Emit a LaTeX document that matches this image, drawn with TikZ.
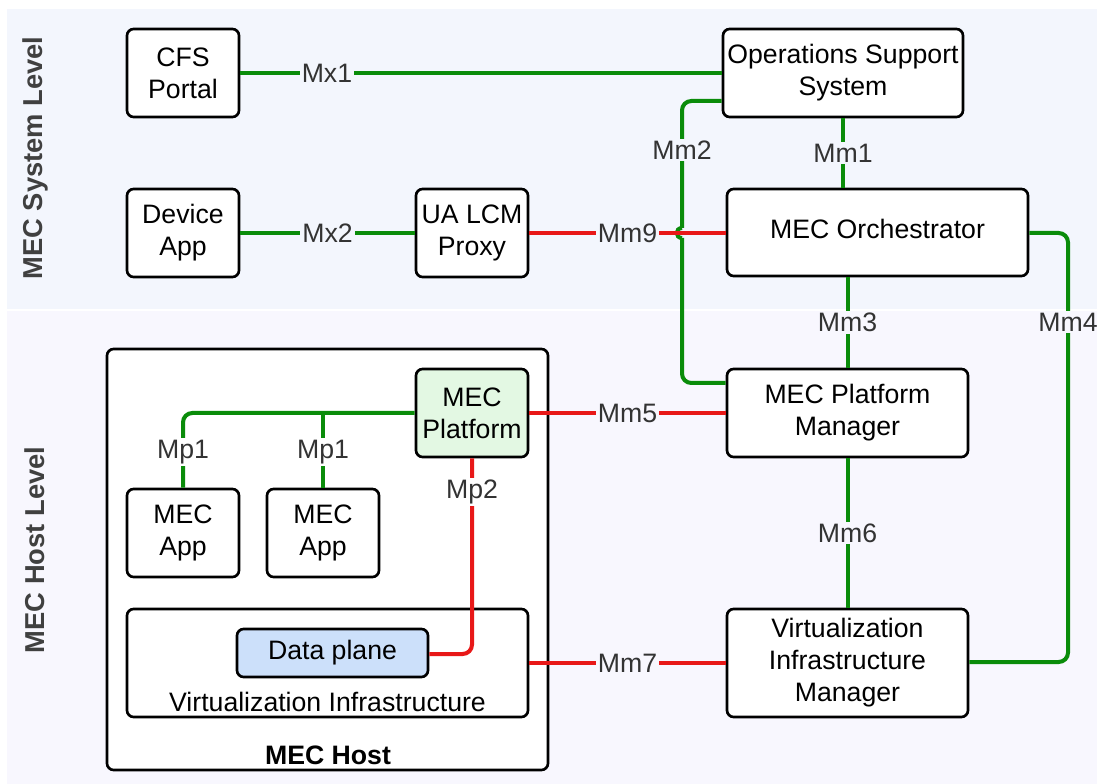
\documentclass[tikz,border=0pt]{standalone}
\usepackage{fontspec}
\setmainfont{Liberation Sans}
\definecolor{topband}{HTML}{F3F6FD}
\definecolor{botband}{HTML}{F8F7FE}
\definecolor{lgreen}{HTML}{0A8C0A}
\definecolor{lred}{HTML}{E81818}
\definecolor{lbltxt}{HTML}{333333}
\definecolor{platfill}{HTML}{E3F8E3}
\definecolor{dpfill}{HTML}{CCE0FA}
\definecolor{titletxt}{HTML}{404040}
\tikzset{
  box/.style={draw=black, line width=2pt, rounded corners=5pt, fill=white, align=center, inner sep=0pt,
    font=\fontsize{20pt}{24pt}\selectfont},
  gline/.style={draw=lgreen, line width=3pt},
  rline/.style={draw=lred, line width=3pt},
  lbl/.style={text=lbltxt, inner sep=1.5pt, font=\fontsize{20pt}{24pt}\selectfont},
  title/.style={text=titletxt, font=\bfseries\fontsize{20.5pt}{24pt}\selectfont, rotate=90},
}
\begin{document}
\begin{tikzpicture}[x=0.75pt,y=-0.75pt]
\useasboundingbox (0,0) rectangle (1097,784);
\fill[white] (0,0) rectangle (1097,784);
\fill[topband] (7,9) rectangle (1097,309);
\fill[botband] (7,311) rectangle (1097,784);
\node[title] (tsys) at (35,158) {MEC System Level};
\node[title] (thost) at (35,550) {MEC Host Level};

% MEC host container
\node[box, minimum width=330.75pt, minimum height=315.75pt] (host) at (327.5,559.5) {};
\node[font=\bfseries\fontsize{20pt}{24pt}\selectfont] (hostlbl) at (328,755) {MEC Host};

% boxes
\node[box, minimum width=84pt, minimum height=66pt] (cfs) at (183,73) {CFS\\Portal};
\node[box, minimum width=180pt, minimum height=66pt] (oss) at (843,73) {Operations Support\\System};
\node[box, minimum width=84pt, minimum height=66pt] (dev) at (183,233) {Device\\App};
\node[box, minimum width=84pt, minimum height=66pt] (ua) at (472,233) {UA LCM\\Proxy};
\node[box, minimum width=225.75pt, minimum height=65.25pt] (orch) at (877.5,232.5) {};
\node[font=\fontsize{20pt}{24pt}\selectfont] (orchlbl) at (877.5,229) {MEC Orchestrator};
\node[box, minimum width=84pt, minimum height=66pt, fill=platfill] (plat) at (472,413) {MEC\\Platform};
\node[box, minimum width=180.75pt, minimum height=66pt] (pm) at (847.5,413) {MEC Platform\\Manager};
\node[box, minimum width=84pt, minimum height=66pt] (app1) at (183,533) {MEC\\App};
\node[box, minimum width=84pt, minimum height=66pt] (app2) at (323,533) {MEC\\App};
\node[box, minimum width=300.75pt, minimum height=81pt] (vi) at (327.5,663) {};
\node[font=\fontsize{20pt}{24pt}\selectfont] (vilbl) at (327.5,702) {Virtualization Infrastructure};
\node[box, minimum width=143.25pt, minimum height=36pt, fill=dpfill] (dp) at (332.5,653) {Data plane};
\node[box, minimum width=180.75pt, minimum height=81pt] (vim) at (847.5,663) {Virtualization\\Infrastructure\\Manager};

% connectors
\draw[gline] (cfs.east) -- node[lbl, fill=topband, pos=0.18] {Mx1} (oss.west |- cfs.east);
\draw[gline] (dev.east) -- node[lbl, fill=topband] {Mx2} (ua.west);

% Mm2 with hop
\coordinate (m2top) at (682,101);
\coordinate (m2h1) at (682,228);
\coordinate (m2h2) at (682,238);
\coordinate (m2bot) at (682,383);
\draw[gline, rounded corners=7pt] ([yshift=-21pt]oss.west) -- (m2top) -- (m2h1);
\draw[gline] (m2h1) .. controls (675,228) and (675,238) .. (m2h2);
\draw[gline, rounded corners=7pt] (m2h2) -- (m2bot) -- (pm.west |- m2bot);
\node[lbl, fill=topband] (lm2) at (682,150) {Mm2};

\draw[rline] (ua.east) -- node[lbl, fill=topband, pos=0.5] {Mm9} (orch.west |- ua.east);

\draw[gline] (oss.south) -- node[lbl, fill=topband] {Mm1} (oss.south |- orch.north);
\draw[gline] (pm.north |- orch.south) -- node[lbl, fill=botband] {Mm3} (pm.north);

\coordinate (m4a) at (1068,233);
\coordinate (m4b) at (1068,662);
\draw[gline, rounded corners=7pt] (orch.east |- m4a) -- (m4a) -- (m4b) -- (vim.east |- m4b);
\node[lbl, fill=botband] (lm4) at (1068,322) {Mm4};

\draw[rline] (plat.east) -- node[lbl, fill=botband] {Mm5} (pm.west);
\draw[gline] (pm.south) -- node[lbl, fill=botband] {Mm6} (vim.north);
\draw[rline] (vi.east |- vim.west) -- node[lbl, fill=botband] {Mm7} (vim.west);

% Mp1
\coordinate (mp1b) at (323,413);
\draw[gline, rounded corners=7pt] (plat.west) -| (app1.north);
\draw[gline] (mp1b) -- (app2.north);
\node[lbl, fill=white] (lmp1a) at (183,452) {Mp1};
\node[lbl, fill=white] (lmp1b) at (323,452) {Mp1};

% Mp2
\coordinate (mp2c) at (472,654);
\draw[rline, rounded corners=7pt] (plat.south) -- (mp2c) -- (dp.east |- mp2c);
\node[lbl, fill=white] (lmp2) at (472,492) {Mp2};
\end{tikzpicture}
\end{document}
